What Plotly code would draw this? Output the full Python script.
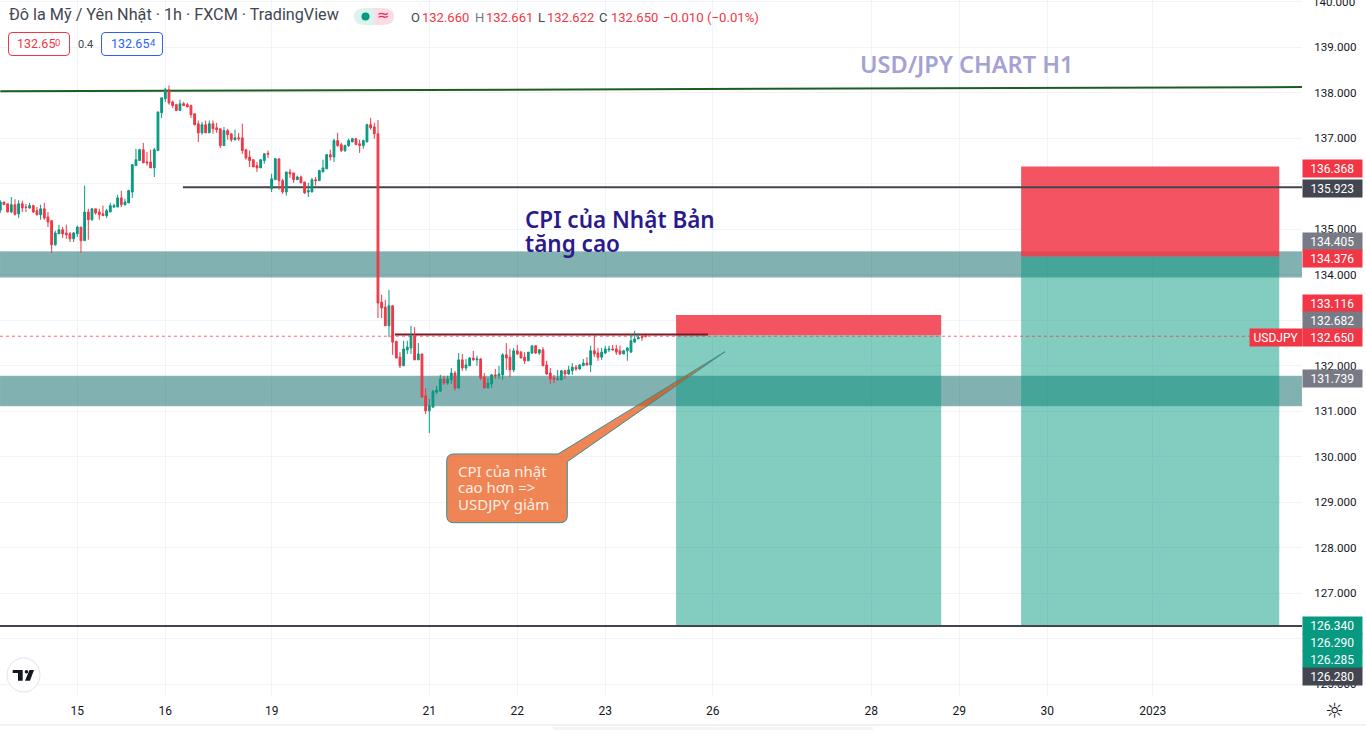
import plotly.graph_objects as go

opens = [135.42,135.60,135.56,135.38,135.54,135.34,135.56,135.49,135.47,135.52,
135.41,135.32,135.45,135.27,135.19,134.66,134.90,134.99,134.92,134.90,
134.79,134.90,135.05,134.75,135.38,135.21,135.45,135.38,135.34,135.30,
135.38,135.49,135.49,135.69,135.54,135.58,135.82,136.40,136.51,136.75,
136.48,136.48,136.35,136.73,137.56,137.87,138.07,137.80,137.74,137.61,
137.76,137.74,137.72,137.54,137.32,137.12,137.30,137.12,137.32,137.23,
137.21,136.84,137.17,137.10,136.97,137.01,137.01,136.75,136.59,136.53,
136.40,136.35,136.51,136.67,135.89,136.09,136.55,136.07,135.82,136.26,
136.24,136.09,136.15,136.04,135.82,135.82,136.09,136.07,136.26,136.33,
136.64,136.59,136.95,136.86,136.73,136.84,136.92,136.99,136.88,136.84,
136.92,137.30,137.25,137.10,133.40,133.29,132.88,133.32,132.54,132.19,
132.00,132.35,132.39,132.66,132.13,132.26,131.34,131.01,131.09,131.42,
131.44,131.71,131.62,131.69,131.84,131.51,132.13,131.95,132.00,132.17,
132.13,132.15,131.75,131.51,131.60,131.80,131.78,131.80,132.24,132.19,
131.91,132.33,132.30,132.19,132.11,132.28,132.44,132.28,132.35,132.02,
131.84,131.73,131.69,131.69,131.89,131.82,131.89,131.97,131.93,132.00,
132.06,132.02,132.33,132.28,132.19,132.28,132.35,132.37,132.37,132.33,
132.26,132.33,132.30,132.52,132.59,132.64,132.660]
highs = [135.64,135.60,135.56,135.71,135.66,135.64,135.63,135.56,135.58,135.54,
135.49,135.54,135.58,135.38,135.19,134.97,135.10,135.05,135.10,134.94,
134.94,135.08,135.05,135.96,135.45,135.47,135.45,135.45,135.52,135.45,
135.58,135.56,135.76,135.85,135.67,135.87,136.42,136.77,136.77,136.90,
136.70,136.75,136.79,137.58,137.89,138.11,138.16,137.83,137.76,137.85,
137.80,137.78,137.74,137.54,137.39,137.36,137.39,137.39,137.39,137.34,
137.21,137.25,137.21,137.10,137.19,137.12,137.32,136.75,136.73,136.53,
136.48,136.53,136.66,136.73,136.22,136.57,136.55,136.11,136.26,136.33,
136.24,136.18,136.18,136.04,136.02,136.13,136.15,136.31,136.53,136.66,
136.75,136.99,137.12,136.90,136.86,136.99,137.01,137.01,136.97,136.97,
137.32,137.45,137.34,137.40,133.56,133.45,133.67,133.32,132.54,132.30,
132.55,132.55,132.88,132.85,132.50,132.26,131.51,131.27,131.47,131.56,
131.80,131.78,131.78,131.95,131.89,132.28,132.26,132.15,132.19,132.33,
132.22,132.17,131.84,131.73,131.82,131.93,132.00,132.28,132.50,132.37,
132.39,132.46,132.33,132.30,132.30,132.44,132.44,132.37,132.41,132.11,
131.95,131.80,131.91,131.91,131.91,132.00,132.06,132.02,132.04,132.15,
132.19,132.44,132.68,132.39,132.39,132.44,132.44,132.46,132.46,132.44,
132.35,132.41,132.70,132.77,132.72,132.68,132.661]
lows = [135.36,135.54,135.38,135.36,135.30,135.25,135.38,135.38,135.45,135.36,
135.30,135.21,135.21,135.05,134.48,134.64,134.90,134.81,134.79,134.72,
134.72,134.83,134.48,134.75,134.77,135.19,135.32,135.21,135.30,135.25,
135.38,135.47,135.49,135.49,135.52,135.58,135.69,136.40,136.51,136.46,
136.40,136.35,136.15,136.73,137.45,137.80,137.74,137.67,137.61,137.61,
137.72,137.69,137.45,137.28,136.92,137.08,137.12,137.12,137.10,137.12,
136.79,136.84,136.97,136.92,136.95,136.95,136.66,136.53,136.37,136.37,
136.26,136.35,136.44,136.57,135.82,136.09,135.87,135.78,135.74,136.13,
136.02,136.09,136.02,135.78,135.71,135.82,135.96,136.07,136.26,136.33,
136.51,136.48,136.81,136.70,136.70,136.81,136.92,136.86,136.68,136.77,
136.92,137.19,136.99,133.05,133.05,132.88,132.63,132.24,132.17,131.95,
132.00,132.26,132.26,132.13,132.13,131.31,130.94,130.52,131.09,131.38,
131.44,131.58,131.58,131.60,131.45,131.49,131.89,131.89,132.00,132.11,
132.00,131.69,131.51,131.51,131.51,131.71,131.71,131.69,131.91,131.75,
131.86,132.24,132.17,132.04,132.11,132.26,132.26,132.24,132.00,131.80,
131.60,131.62,131.69,131.69,131.71,131.80,131.80,131.89,131.91,132.00,
132.00,131.86,132.19,132.11,132.13,132.26,132.30,132.33,132.24,132.24,
132.26,132.11,132.30,132.52,132.59,132.55,132.622]
closes = [135.60,135.54,135.38,135.54,135.33,135.56,135.47,135.48,135.52,135.38,
135.32,135.45,135.25,135.16,134.66,134.92,134.99,134.90,134.88,134.79,
134.92,135.05,134.75,135.38,135.21,135.45,135.36,135.32,135.30,135.41,
135.52,135.52,135.69,135.54,135.60,135.85,136.42,136.53,136.75,136.46,
136.46,136.35,136.75,137.58,137.89,138.07,137.78,137.72,137.61,137.76,
137.72,137.69,137.52,137.30,137.12,137.30,137.12,137.32,137.21,137.19,
136.84,137.17,137.08,136.97,137.01,136.99,136.73,136.57,136.51,136.37,
136.35,136.53,136.66,136.65,136.11,136.55,136.07,135.82,136.26,136.22,
136.09,136.15,136.02,135.80,135.85,136.09,136.07,136.29,136.35,136.64,
136.59,136.95,136.84,136.73,136.84,136.95,136.99,136.86,136.84,136.95,
137.30,137.23,137.10,133.38,133.27,132.88,133.32,132.52,132.17,132.00,
132.37,132.41,132.66,132.13,132.26,131.31,131.01,131.12,131.44,131.47,
131.71,131.62,131.71,131.84,131.51,132.13,131.95,132.02,132.17,132.13,
132.15,131.73,131.51,131.62,131.80,131.78,131.82,132.24,132.17,131.91,
132.33,132.26,132.17,132.11,132.30,132.44,132.28,132.35,132.00,131.82,
131.71,131.71,131.71,131.89,131.82,131.91,131.97,131.93,132.02,132.06,
132.02,132.33,132.26,132.19,132.30,132.37,132.37,132.35,132.30,132.26,
132.33,132.39,132.55,132.59,132.62,132.62,132.650]

x_tick_bars = [21, 45, 74, 117, 141, 165, 194.3, 237.5, 261.5, 285.5, 314.3]
x_tick_labels = ["15", "16", "19", "21", "22", "23", "26", "28", "29", "30", "2023"]
y_tick_prices = list(range(125, 141))

last_price = 132.650
zone_upper = (134.51, 133.945)
zone_lower = (131.776, 131.117)
box_a_bars = (184.3, 256.6)
box_a_stop, box_a_entry, box_a_target = 133.116, 132.67, 126.28
box_b_bars = (278.4, 348.8)
box_b_stop, box_b_entry, box_b_target = 136.38, 134.40, 126.28
resistance_line = ((0, 138.033), (355, 138.127))
mid_line_start, mid_line_price = 49.8, 135.923
low_line_price = 126.28
entry_line = ((107.6, 132.69), (193, 132.69))

axis_labels = [
    ("136.368", "#f23645", 159), ("135.923", "#434651", 179.3),
    ("134.405", "#787b86", 232), ("134.376", "#f23645", 249),
    ("133.116", "#f23645", 294.3), ("132.682", "#787b86", 311.3),
    ("132.650", "#f23645", 328), ("131.739", "#787b86", 369.3),
    ("126.340", "#089981", 616), ("126.290", "#089981", 633),
    ("126.285", "#089981", 650), ("126.280", "#434651", 667),
]

W, H, PANE_W, PANE_H = 1366, 730, 1302, 697
def px(x): return x / PANE_W
def py(y): return (PANE_H - y) / PANE_H
def pt(x, y): return f"{px(x):.5f},{py(y):.5f}"
def rrect(x0, y0, x1, y1, r):
    return (f"M{pt(x0+r,y0)} L{pt(x1-r,y0)} Q{pt(x1,y0)} {pt(x1,y0+r)} L{pt(x1,y1-r)} Q{pt(x1,y1)} {pt(x1-r,y1)} "
            f"L{pt(x0+r,y1)} Q{pt(x0,y1)} {pt(x0,y1-r)} L{pt(x0,y0+r)} Q{pt(x0,y0)} {pt(x0+r,y0)} Z")

fig = go.Figure(go.Candlestick(
    x=list(range(len(opens))), open=opens, high=highs, low=lows, close=closes,
    increasing=dict(line=dict(color="#089981", width=1), fillcolor="#089981"),
    decreasing=dict(line=dict(color="#f23645", width=1), fillcolor="#f23645"),
    whiskerwidth=0, hoverinfo="skip", showlegend=False,
))

shapes = []
def rect(x0, x1, y0, y1, fill, line=None):
    shapes.append(dict(type="rect", layer="between", xref="x", yref="y", x0=x0, x1=x1, y0=y0, y1=y1,
                       fillcolor=fill, line=dict(width=1 if line else 0, color=line or "rgba(0,0,0,0)")))
def seg(p0, p1, color, width, dash="solid", layer="between"):
    shapes.append(dict(type="line", layer=layer, xref="x", yref="y", x0=p0[0], y0=p0[1], x1=p1[0], y1=p1[1],
                       line=dict(color=color, width=width, dash=dash)))
def ppath(path, fill, line=None, width=1):
    shapes.append(dict(type="path", layer="above", xref="paper", yref="paper", path=path, fillcolor=fill,
                       line=dict(width=width if line else 0, color=line or "rgba(0,0,0,0)")))

ZONE = "rgba(0,95,95,0.49)"
rect(-0.1, 355, zone_upper[1], zone_upper[0], ZONE, "rgba(150,190,190,0.5)")
rect(-0.1, 355, zone_lower[1], zone_lower[0], ZONE, "rgba(150,190,190,0.5)")
GREEN, RED = "rgba(8,153,129,0.5)", "rgba(242,54,69,0.85)"
rect(*box_a_bars, box_a_target, box_a_entry, GREEN)
rect(*box_a_bars, box_a_entry, box_a_stop, RED)
rect(*box_b_bars, box_b_target, box_b_entry, GREEN)
rect(*box_b_bars, box_b_entry, box_b_stop, RED)
seg(*resistance_line, "#1b5e20", 2)
seg((mid_line_start, mid_line_price), (355, mid_line_price), "#434651", 2)
seg((-0.1, low_line_price), (355, low_line_price), "#434651", 2)
seg((-0.1, last_price), (340.9, last_price), "rgba(242,54,69,0.75)", 1, "dot")
seg(*entry_line, "#801922", 2)

# callout with its pointer
callout = (f"M{pt(453.7,454)} L{pt(558,454)} L{pt(725,351.7)} L{pt(567.3,461.7)} L{pt(567.3,515.7)} "
           f"Q{pt(567.3,522.7)} {pt(560.3,522.7)} L{pt(453.7,522.7)} Q{pt(446.7,522.7)} {pt(446.7,515.7)} "
           f"L{pt(446.7,461)} Q{pt(446.7,454)} {pt(453.7,454)} Z")
ppath(callout, "rgba(231,73,0,0.67)", "#38908f", 1)

# header widgets
ppath(f"M{pt(374,8)} L{pt(366,8)} Q{pt(354,8)} {pt(354,16.5)} Q{pt(354,25)} {pt(366,25)} L{pt(374,25)} Z", "#dcf2ed")
ppath(f"M{pt(374,8)} L{pt(382,8)} Q{pt(394,8)} {pt(394,16.5)} Q{pt(394,25)} {pt(382,25)} L{pt(374,25)} Z", "#fbdde6")
shapes.append(dict(type="circle", layer="above", xref="paper", yref="paper", x0=px(361.5), x1=px(369.5),
                   y0=py(20.5), y1=py(12.5), fillcolor="#089981", line=dict(width=0)))
ppath(rrect(8.5, 32.5, 69.5, 55.5, 3.5), "#ffffff", "#f23645", 1)
ppath(rrect(101.5, 32.5, 162.5, 55.5, 3.5), "#ffffff", "#2962ff", 1)

# logo
shapes.append(dict(type="circle", layer="above", xref="paper", yref="paper", x0=px(7), x1=px(40),
                   y0=py(692), y1=py(658), fillcolor="#ffffff", line=dict(width=1, color="#e0e3eb")))
ppath(f"M{pt(12.7,670)} L{pt(22.7,670)} L{pt(22.7,680.7)} L{pt(18,680.7)} L{pt(18,673)} L{pt(12.7,673)} Z", "#131722")
ppath(f"M{pt(29.5,670)} L{pt(34,670)} L{pt(30,680.7)} L{pt(25,680.7)} Z", "#131722")
shapes.append(dict(type="circle", layer="above", xref="paper", yref="paper", x0=px(24.7), x1=px(28.3),
                   y0=py(673.5), y1=py(669.9), fillcolor="#131722", line=dict(width=0)))
# bottom rule of the page and the faint strip under it
shapes.append(dict(type="rect", layer="above", xref="paper", yref="paper", x0=px(553), x1=px(873), y0=py(730), y1=py(727),
                   fillcolor="#f5f5f8", line=dict(width=0)))
shapes.append(dict(type="line", layer="above", xref="paper", yref="paper", x0=0, x1=W / PANE_W, y0=py(725), y1=py(725),
                   line=dict(color="#e0e3eb", width=1)))

annotations = []
def note(x, y, text, size=13, color="#131722", family="Roboto", anchor="left", weight=None, **kw):
    f = dict(family=family, size=size, color=color)
    if weight: f["weight"] = weight
    annotations.append(dict(xref="paper", yref="paper", x=px(x), y=py(y), text=text, showarrow=False,
                            xanchor=anchor, yanchor="middle", font=f, align="left", borderpad=0, borderwidth=0, **kw))

note(9, 15, "Đô la Mỹ / Yên Nhật · 1h · FXCM · TradingView", size=16.2, color="#434651")
UP = "#f23645"
note(410.5, 17.5, "O", 13, "#434651"); note(422.5, 17.5, "132.660", 13, UP)
note(475, 17.5, "H", 13, "#787b86"); note(485.5, 17.5, "132.661", 13, UP)
note(537.5, 17.5, "L", 13, "#434651"); note(546.5, 17.5, "132.622", 13, UP)
note(599, 17.5, "C", 13, "#434651"); note(610.5, 17.5, "132.650", 13, UP)
note(662.5, 17.5, "−0.010 (−0.01%)", 13.2, UP)
note(383, 15.5, "≈", 15, "#e91e63", family="DejaVu Sans", anchor="center")
note(16.5, 44, "132.65", 12.5, "#f23645"); note(55, 43, "0", 9.5, "#f23645")
note(78, 44.5, "0.4", 11, "#434651")
note(110.5, 44, "132.65", 12.5, "#2962ff"); note(149.5, 43, "4", 9.5, "#2962ff")

note(860, 64, "USD/JPY CHART H1", 23.5, "#a6a1d3", family="Noto Sans", weight=600)
note(525, 219, "CPI của Nhật Bản", 22.5, "#2b1a8c", family="Noto Sans", weight=600)
note(525, 243, "tăng cao", 22.5, "#2b1a8c", family="Noto Sans", weight=600)
note(458, 471, "CPI của nhật", 15, "#fbeee6", family="Noto Sans")
note(458, 487, "cao hơn =>", 15, "#fbeee6", family="Noto Sans")
note(458, 503.5, "USDJPY giảm", 15, "#fbeee6", family="Noto Sans")

for label, color, top in axis_labels:
    annotations.append(dict(xref="paper", yref="paper", x=px(1302), y=py(top), xanchor="left", yanchor="top",
                            text=label, showarrow=False, width=58.5, height=17, bgcolor=color, borderpad=0,
                            align="center", valign="middle", font=dict(family="Roboto", size=12, color="#ffffff")))
annotations.append(dict(xref="paper", yref="paper", x=px(1249), y=py(328), xanchor="left", yanchor="top",
                        text="USDJPY", showarrow=False, width=52, height=17, bgcolor="#f23645", borderpad=0,
                        align="center", valign="middle", font=dict(family="Roboto", size=12, color="#ffffff")))
note(1334, 711, "☼", 21, "#131722", family="DejaVu Sans", anchor="center")
# top tick label is cut by the page edge, which the axis itself would drop
note(1313, 1.8, f"{y_tick_prices[-1]}.000", 11.6, "#131722")

fig.update_layout(
    width=W, height=H, margin=dict(l=0, r=W - PANE_W, t=0, b=H - PANE_H, pad=0),
    paper_bgcolor="#ffffff", plot_bgcolor="#ffffff", showlegend=False, dragmode=False,
    shapes=shapes, annotations=annotations,
    xaxis=dict(range=[-0.08, 355], tickmode="array", tickvals=x_tick_bars, ticktext=x_tick_labels,
               showgrid=True, gridcolor="#f0f3fa", gridwidth=1, zeroline=False, showline=False,
               ticks="outside", ticklen=3, tickcolor="rgba(0,0,0,0)", rangeslider=dict(visible=False),
               tickangle=0, tickfont=dict(family="Roboto", size=12, color="#131722")),
    yaxis=dict(range=[124.72, 140.04], side="right", tickmode="array", tickvals=y_tick_prices,
               ticktext=[f"{v}.000" for v in y_tick_prices], showgrid=True, gridcolor="#f0f3fa", gridwidth=1,
               zeroline=False, showline=False, ticks="outside", ticklen=9, tickcolor="rgba(0,0,0,0)",
               tickfont=dict(family="Roboto", size=11.6, color="#131722")),
)

fig.write_html("out.html", config=dict(displayModeBar=False, staticPlot=True),
               post_script="document.body.style.margin='0';document.documentElement.style.overflow='hidden';")
